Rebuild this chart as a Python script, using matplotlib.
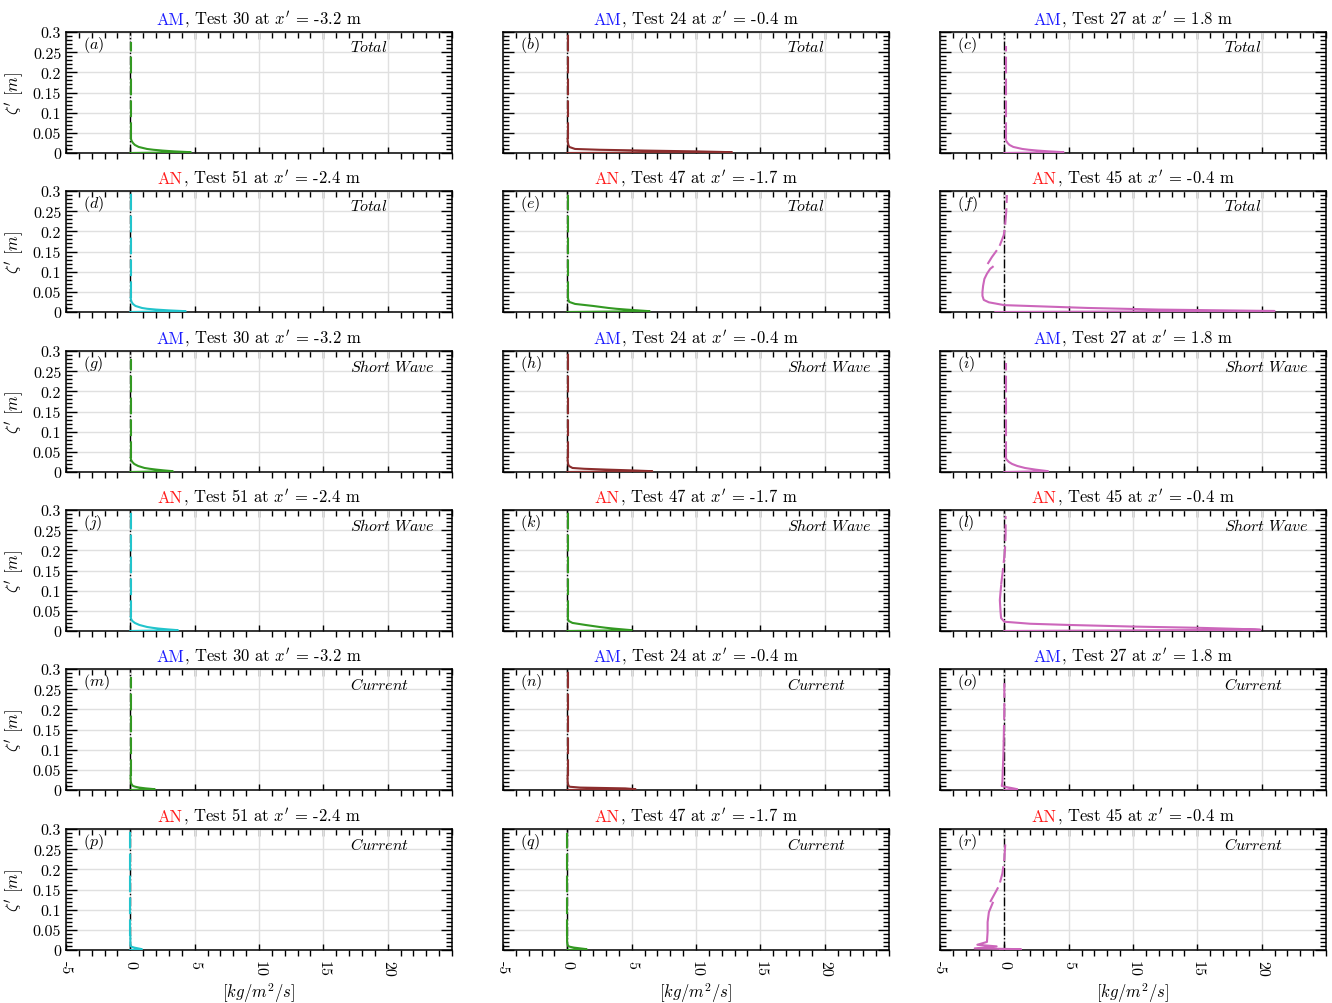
import matplotlib
matplotlib.use("Agg")
import matplotlib.pyplot as plt
from matplotlib.ticker import MultipleLocator, FuncFormatter

plt.rcParams["font.family"] = "serif"
plt.rcParams["font.serif"] = ["cmr10", "DejaVu Serif"]
plt.rcParams["mathtext.fontset"] = "cm"
plt.rcParams["axes.unicode_minus"] = False
plt.rcParams["font.size"] = 11.5

# shared heights of the near-bed (solid) part of the profiles [m]
Z_NEAR = [0.0, 0.002, 0.004, 0.006, 0.008, 0.010, 0.015, 0.020, 0.025, 0.030, 0.035]

q_a = [0, 4.7, 3.4, 2.5, 1.8, 1.3, 0.65, 0.35, 0.2, 0.1, 0.05]
q_b = [0, 12.8, 10.0, 6.0, 2.5, 0.6, 0.15, 0.08, 0.05, 0.03, 0.02]
q_c = [0, 4.6, 3.5, 2.6, 1.9, 1.4, 0.7, 0.4, 0.25, 0.15, 0.1]
q_d = [0, 4.3, 3.0, 2.0, 1.3, 0.9, 0.4, 0.2, 0.1, 0.05, 0.03]
q_e = [0, 6.4, 5.5, 4.6, 3.8, 3.2, 2.0, 0.6, 0.15, 0.08, 0.05]
q_g = [0, 3.3, 2.6, 2.0, 1.5, 1.1, 0.6, 0.3, 0.15, 0.06, 0.03]
q_h = [0, 6.6, 5.0, 3.0, 1.3, 0.4, 0.12, 0.06, 0.04, 0.03, 0.02]
q_i = [0, 3.4, 2.9, 2.4, 2.0, 1.6, 1.0, 0.6, 0.35, 0.2, 0.1]
q_j = [0, 3.7, 2.9, 2.2, 1.7, 1.3, 0.7, 0.35, 0.15, 0.06, 0.03]
q_k = [0, 5.0, 4.3, 3.6, 3.0, 2.5, 1.4, 0.4, 0.1, 0.05, 0.04]
q_m = [0, 1.9, 1.2, 0.7, 0.4, 0.2, 0.08, 0.04, 0.03, 0.02, 0.02]
q_n = [0, 5.3, 4.5, 1.0, 0.2, 0.1, 0.05, 0.03, 0.02, 0.02, 0.02]
q_p = [0, 0.9, 0.6, 0.3, 0.1, 0.02, 0.0, 0.0, 0.0, 0.0, 0.0]
q_q = [0, 1.5, 1.0, 0.5, 0.2, 0.05, 0.0, -0.02, -0.02, -0.02, -0.02]

# top of the dashed upper part for the regular panels
TOPS = {"a": 0.275, "b": 0.30, "c": 0.265, "d": 0.30, "e": 0.29, "g": 0.28,
        "h": 0.30, "i": 0.27, "j": 0.30, "k": 0.30, "m": 0.28, "n": 0.30,
        "p": 0.30, "q": 0.29}

# panels with a profile of their own shape
z_f = [0, 0.0025, 0.006, 0.010, 0.017, 0.024, 0.030, 0.040, 0.050, 0.065, 0.082, 0.095, 0.107, 0.112]
q_f = [-0.7, 21.0, 12.0, 6.5, 0.0, -1.2, -1.6, -1.7, -1.7, -1.65, -1.55, -1.35, -1.1, -0.9]
zd_f = [0.119, 0.136, 0.161, 0.19, 0.21, 0.25, 0.29]
qd_f = [-1.3, -0.97, -0.4, -0.05, 0.05, 0.15, 0.2]

z_l = [0, 0.003, 0.004, 0.008, 0.011, 0.015, 0.018, 0.023, 0.032, 0.05, 0.077, 0.095, 0.112]
q_l = [0, 19.9, 19.5, 15.0, 10.0, 5.0, 2.0, 0.0, -0.25, -0.3, -0.35, -0.3, -0.25]
zd_l = [0.115, 0.14, 0.17, 0.20, 0.24, 0.285]
qd_l = [-0.25, -0.15, -0.05, 0.05, 0.1, 0.1]

z_o = [0, 0.002, 0.004, 0.007, 0.010, 0.02, 0.05, 0.08, 0.12]
q_o = [0, 1.0, 0.7, 0.2, -0.2, -0.15, -0.12, -0.08, -0.05]
zd_o = [0.12, 0.2, 0.265]
qd_o = [-0.05, 0.0, 0.0]

z_r = [0, 0.002, 0.004, 0.009, 0.013, 0.02, 0.045, 0.069, 0.094, 0.117]
q_r = [-0.3, 1.3, -2.3, -0.6, -2.1, -1.35, -1.3, -1.3, -1.2, -0.9]
zd_r = [0.119, 0.16, 0.19, 0.226, 0.25, 0.275]
qd_r = [-1.1, -0.4, -0.15, 0.0, 0.05, 0.1]

ROW_KIND = ["Total", "Total", "Short\\ Wave", "Short\\ Wave", "Current", "Current"]
ROW_SET = ["AM", "AN", "AM", "AN", "AM", "AN"]
SET_COLOR = {"AM": "#1c1cff", "AN": "#ff1a1a"}
TESTS = {"AM": ["Test 30 at $x'$ = -3.2 m", "Test 24 at $x'$ = -0.4 m", "Test 27 at $x'$ = 1.8 m"],
         "AN": ["Test 51 at $x'$ = -2.4 m", "Test 47 at $x'$ = -1.7 m", "Test 45 at $x'$ = -0.4 m"]}
LINE_COLOR = {"AM": ["#339922", "#8b2d2d", "#cc66bb"],
              "AN": ["#22c4cc", "#339922", "#cc66bb"]}

LETTERS = "abcdefghijklmnopqr"
near = {"a": q_a, "b": q_b, "c": q_c, "d": q_d, "e": q_e, "g": q_g, "h": q_h,
        "i": q_i, "j": q_j, "k": q_k, "m": q_m, "n": q_n, "p": q_p, "q": q_q}
special = {"f": (z_f, q_f, zd_f, qd_f), "l": (z_l, q_l, zd_l, qd_l),
           "o": (z_o, q_o, zd_o, qd_o), "r": (z_r, q_r, zd_r, qd_r)}

W, H = 1332, 1004
COL_LEFT = [66, 503, 940]
ROW_TOP = [33, 192, 352, 511, 670, 830]
AX_W, AX_H = 386, 121

fig = plt.figure(figsize=(W / 100, H / 100), dpi=100)
titles = []

for r in range(6):
    for c in range(3):
        letter = LETTERS[r * 3 + c]
        ax = fig.add_axes([COL_LEFT[c] / W, 1 - (ROW_TOP[r] + AX_H) / H, AX_W / W, AX_H / H])
        color = LINE_COLOR[ROW_SET[r]][c]

        ax.axvline(0, color="black", lw=1.0, ls="-.", zorder=2)
        if letter in special:
            zs, qs, zd, qd = special[letter]
        else:
            zs, qs = Z_NEAR, near[letter]
            zd = [Z_NEAR[-1], 0.1, 0.2, TOPS[letter]]
            qd = [qs[-1]] * 4
        ax.plot(qs, zs, color=color, lw=1.5, zorder=3, solid_joinstyle="round")
        ax.plot(qd, zd, color=color, lw=1.5, ls=(0, (8, 2.5)), zorder=3)

        ax.set_xlim(-5, 25)
        ax.set_ylim(0, 0.3)
        ax.set_xticks([-5, 0, 5, 10, 15, 20])
        ax.xaxis.set_minor_locator(MultipleLocator(1))
        ax.yaxis.set_major_locator(MultipleLocator(0.05))
        ax.yaxis.set_minor_locator(MultipleLocator(0.01))
        ax.yaxis.set_major_formatter(FuncFormatter(lambda v, p: "%g" % round(v, 3)))
        ax.xaxis.set_major_formatter(FuncFormatter(lambda v, p: "%g" % v))
        ax.grid(True, which="major", color="#e0e0e0", lw=1.0, zorder=0)
        ax.set_axisbelow(True)
        for s in ax.spines.values():
            s.set_linewidth(1.1)

        ax.tick_params(axis="y", which="major", direction="in", length=8, width=1.0,
                       left=True, right=True)
        ax.tick_params(axis="y", which="minor", direction="in", length=4.3, width=1.0,
                       left=True, right=True)
        ax.tick_params(axis="x", which="major", direction="in", length=4, width=1.0, top=False)
        ax.tick_params(axis="x", which="minor", direction="out", length=4.5, width=1.0, top=False)
        sec = ax.secondary_xaxis("top")
        sec.set_xticks([-5, 0, 5, 10, 15, 20])
        sec.xaxis.set_minor_locator(MultipleLocator(1))
        sec.tick_params(which="major", direction="in", length=5, width=1.0, labeltop=False)
        sec.tick_params(which="minor", direction="in", length=4, width=1.0, labeltop=False)

        if c == 0:
            ax.set_ylabel(r"$\zeta'$ $[m]$", labelpad=4, fontsize=12)
        else:
            ax.tick_params(axis="y", labelleft=False)
        if r == 5:
            ax.tick_params(axis="x", labelrotation=270, pad=7)
            ax.set_xlabel(r"$[kg/m^2/s]$", labelpad=3, fontsize=12)
        else:
            ax.tick_params(axis="x", labelbottom=False)

        ax.text(0.045, 0.9, "$(%s)$" % letter, transform=ax.transAxes,
                ha="left", va="center", fontsize=11.5)
        ax.text(0.735, 0.88, "$%s$" % ROW_KIND[r], transform=ax.transAxes,
                ha="left", va="center", fontsize=11.5)

        tag = ROW_SET[r]
        t1 = ax.text(0, 1.066, tag, color=SET_COLOR[tag], transform=ax.transAxes,
                     ha="left", va="baseline", fontsize=12)
        t2 = ax.text(0, 1.066, ", " + TESTS[tag][c], color="black", transform=ax.transAxes,
                     ha="left", va="baseline", fontsize=12)
        titles.append((ax, t1, t2))

renderer = fig.canvas.get_renderer()
for ax, t1, t2 in titles:
    axw = ax.get_window_extent(renderer).width
    w1 = t1.get_window_extent(renderer).width
    w2 = t2.get_window_extent(renderer).width
    start = 0.5 - (w1 + w2) / 2 / axw
    t1.set_x(start)
    t2.set_x(start + w1 / axw)

fig.savefig("out.png", dpi=100)
